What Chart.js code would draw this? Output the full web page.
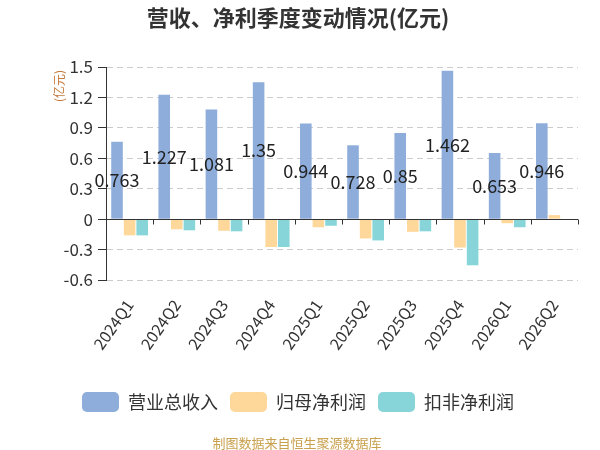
<!DOCTYPE html>
<html><head><meta charset="utf-8">
<script src="https://cdn.jsdelivr.net/npm/chart.js@4.4.0/dist/chart.umd.min.js"></script>
<style>html,body{margin:0;padding:0;background:#fff}</style>
</head><body>
<canvas id="c" width="600" height="450" style="width:600px;height:450px;display:block"></canvas>
<script>
const categories = ['2024Q1','2024Q2','2024Q3','2024Q4','2025Q1','2025Q2','2025Q3','2025Q4','2026Q1','2026Q2'];
const revenue = [0.763,1.227,1.081,1.35,0.944,0.728,0.85,1.462,0.653,0.946];
const netProfit = [-0.16,-0.10,-0.115,-0.275,-0.08,-0.19,-0.125,-0.28,-0.04,0.04];
const deductedProfit = [-0.16,-0.11,-0.12,-0.275,-0.065,-0.21,-0.12,-0.455,-0.08,null];
const seriesNames = ['营业总收入','归母净利润','扣非净利润'];
const yTicks = [-0.6,-0.3,0,0.3,0.6,0.9,1.2,1.5];
const titleText = '营收、净利季度变动情况(亿元)';
const unitText = '(亿元)';
const footerText = '制图数据来自恒生聚源数据库';

const FONT = '"Noto Sans CJK SC","Noto Sans",sans-serif';

const extras = {
  id: 'extras',
  afterLayout(chart) {
    const l = chart.legend;
    if (l) { l.left += 9; l.right += 9; }
  },
  afterDatasetsDraw(chart) {
    const ctx = chart.ctx, a = chart.chartArea, y = chart.scales.y;
    const y0 = Math.round(y.getPixelForValue(0)) + 0.5;
    ctx.save();
    ctx.strokeStyle = '#333'; ctx.lineWidth = 1; ctx.setLineDash([]);
    ctx.beginPath(); ctx.moveTo(a.left, y0); ctx.lineTo(a.right, y0);
    const n = categories.length, w = (a.right - a.left) / n;
    for (let i = 1; i <= n; i++) {
      const x = Math.round(a.left + i * w) + 0.5;
      ctx.moveTo(x, y0); ctx.lineTo(x, y0 + 5);
    }
    ctx.stroke();
    const meta = chart.getDatasetMeta(0);
    ctx.fillStyle = '#222';
    ctx.font = '18px ' + FONT;
    ctx.textAlign = 'center'; ctx.textBaseline = 'middle';
    meta.data.forEach((el, i) => {
      ctx.fillText(String(revenue[i]), el.x, (el.y + el.base) / 2);
    });
    ctx.restore();
  },
  afterDraw(chart) {
    const ctx = chart.ctx;
    ctx.save();
    ctx.fillStyle = '#333';
    ctx.font = 'bold 22px ' + FONT;
    ctx.textAlign = 'center'; ctx.textBaseline = 'middle';
    ctx.fillText(titleText, 298, 18);
    ctx.fillStyle = '#c47a3c';
    ctx.font = '12px ' + FONT;
    ctx.translate(59, 86); ctx.rotate(-Math.PI / 2);
    ctx.fillText(unitText, 0, 0);
    ctx.restore();
    ctx.save();
    ctx.fillStyle = '#c9a04e';
    ctx.font = '13px ' + FONT;
    ctx.textAlign = 'center'; ctx.textBaseline = 'middle';
    ctx.fillText(footerText, 297, 443);
    ctx.restore();
  }
};

new Chart(document.getElementById('c'), {
  type: 'bar',
  data: {
    labels: categories,
    datasets: [
      { label: seriesNames[0], data: revenue, backgroundColor: '#8eadda' },
      { label: seriesNames[1], data: netProfit, backgroundColor: '#fed89b' },
      { label: seriesNames[2], data: deductedProfit, backgroundColor: '#87d5d8' }
    ]
  },
  options: {
    responsive: false,
    animation: false,
    devicePixelRatio: 1,
    datasets: { bar: { categoryPercentage: 0.8, barPercentage: 0.92 } },
    layout: { padding: { top: 67, right: 22, bottom: 28, left: 0 } },
    scales: {
      x: {
        grid: { display: false },
        border: { display: false },
        ticks: { color: '#333', font: { size: 16, family: FONT }, minRotation: 55, maxRotation: 55, autoSkip: false, padding: 8 },
        afterFit: s => { s.height = 100; }
      },
      y: {
        min: -0.6, max: 1.5,
        afterBuildTicks: s => { s.ticks = yTicks.map(v => ({ value: v })); },
        ticks: { color: '#333', font: { size: 17, family: FONT }, padding: 5, callback: v => String(v) },
        grid: { color: '#cccccc', tickColor: '#333', tickLength: 8, tickBorderDash: [] },
        border: { display: true, color: '#333', width: 1, dash: [6, 4] },
        afterFit: s => { s.width = 106; }
      }
    },
    plugins: {
      title: { display: false },
      tooltip: { enabled: false },
      legend: {
        position: 'bottom',
        labels: {
          boxWidth: 37, boxHeight: 20, useBorderRadius: true, borderRadius: 5,
          color: '#333', font: { size: 18, family: FONT }, padding: 12
        }
      }
    }
  },
  plugins: [extras]
});
</script>
</body></html>
